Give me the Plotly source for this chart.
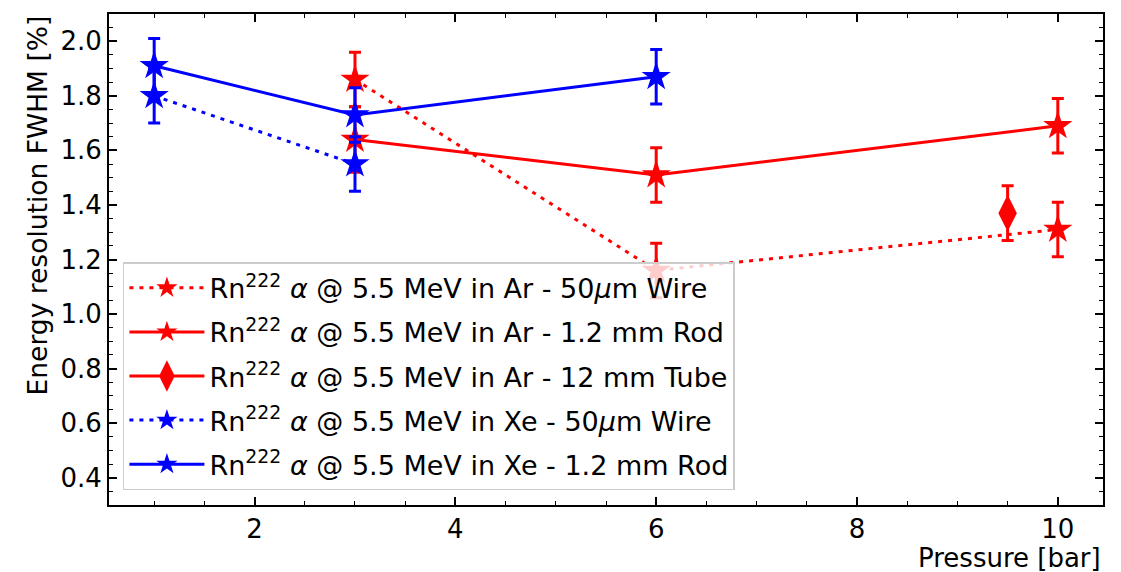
import plotly.graph_objects as go

# ---- data ----
ar_wire_x = [3, 6, 10]
ar_wire_y = [1.86, 1.16, 1.31]
ar_wire_err = [0.10, 0.10, 0.10]

ar_rod_x = [3, 6, 10]
ar_rod_y = [1.64, 1.51, 1.69]
ar_rod_err = [0.12, 0.10, 0.10]

ar_tube_x = [9.5]
ar_tube_y = [1.37]
ar_tube_err = [0.10]

xe_wire_x = [1, 3]
xe_wire_y = [1.80, 1.55]
xe_wire_err = [0.10, 0.10]

xe_rod_x = [1, 3, 6]
xe_rod_y = [1.91, 1.73, 1.87]
xe_rod_err = [0.10, 0.10, 0.10]

labels = [
    "Rn<sup>222</sup> <i>α</i> @ 5.5 MeV in Ar - 50<i>μ</i>m Wire",
    "Rn<sup>222</sup> <i>α</i> @ 5.5 MeV in Ar - 1.2 mm Rod",
    "Rn<sup>222</sup> <i>α</i> @ 5.5 MeV in Ar - 12 mm Tube",
    "Rn<sup>222</sup> <i>α</i> @ 5.5 MeV in Xe - 50<i>μ</i>m Wire",
    "Rn<sup>222</sup> <i>α</i> @ 5.5 MeV in Xe - 1.2 mm Rod",
]

RED = "#ff0000"
BLUE = "#0000ff"
FONT = "DejaVu Sans"
DOT = "4px,6px"
TICK_SIZE = 26

fig = go.Figure()

def add(x, y, err, name, color, dash, symbol, size, group, mlw=0):
    fig.add_trace(go.Scatter(
        x=x, y=y, name=name, mode="lines+markers", legendgroup=group,
        line=dict(color=color, width=3, dash=dash),
        marker=dict(symbol=symbol, size=size, color=color,
                    line=dict(width=mlw, color=color)),
        error_y=dict(type="data", array=err, visible=True, color=color,
                     thickness=3, width=6),
    ))

add(ar_wire_x, ar_wire_y, ar_wire_err, labels[0], RED, DOT, "star", 22, "g1")
add(ar_rod_x, ar_rod_y, ar_rod_err, labels[1], RED, "solid", "star", 22, "g2")
add(ar_tube_x, ar_tube_y, ar_tube_err, labels[2], RED, "solid", "diamond-tall", 20, "g3", mlw=4)
add(xe_wire_x, xe_wire_y, xe_wire_err, labels[3], BLUE, DOT, "star", 22, "g4")
add(xe_rod_x, xe_rod_y, xe_rod_err, labels[4], BLUE, "solid", "star", 22, "g5")

axis_common = dict(
    showgrid=False, zeroline=False, showline=True, linecolor="black",
    linewidth=1.8, mirror="allticks", ticks="inside", ticklen=8, tickwidth=1.5,
    tickcolor="black",
)

fig.update_xaxes(range=[0.55, 10.45], dtick=2, tick0=0,
                 tickfont=dict(family=FONT, size=TICK_SIZE, color="black"),
                 minor=dict(ticks="inside", dtick=0.5, ticklen=4, tickwidth=1.2,
                            tickcolor="black"),
                 **axis_common)
fig.update_yaxes(range=[0.3, 2.1], dtick=0.2, tick0=0, tickformat=".1f",
                 tickfont=dict(family=FONT, size=TICK_SIZE, color="black"),
                 minor=dict(ticks="inside", dtick=0.05, ticklen=4, tickwidth=1.2,
                            tickcolor="black"),
                 **axis_common)

fig.add_annotation(text="Energy resolution FWHM [%]", xref="paper", yref="paper",
                   x=-0.072, y=1.002, xanchor="center", yanchor="top", textangle=-90,
                   showarrow=False, font=dict(family=FONT, size=26.5, color="black"))
fig.add_annotation(text="Pressure [bar]", xref="paper", yref="paper",
                   x=1.0, y=-0.107, xanchor="right", yanchor="middle",
                   showarrow=False, font=dict(family=FONT, size=26, color="black"))

fig.update_layout(
    width=1121, height=572,
    margin=dict(l=109, r=18, t=12, b=67),
    paper_bgcolor="white", plot_bgcolor="white",
    font=dict(family=FONT, size=TICK_SIZE, color="black"),
    showlegend=True,
    legend=dict(x=0.014, y=0.03, xanchor="left", yanchor="bottom",
                bgcolor="rgba(255,255,255,0.8)", bordercolor="#cccccc",
                borderwidth=1.5, font=dict(family=FONT, size=27, color="black"),
                itemwidth=75, tracegroupgap=6),
)

fig.write_html("out.html")
